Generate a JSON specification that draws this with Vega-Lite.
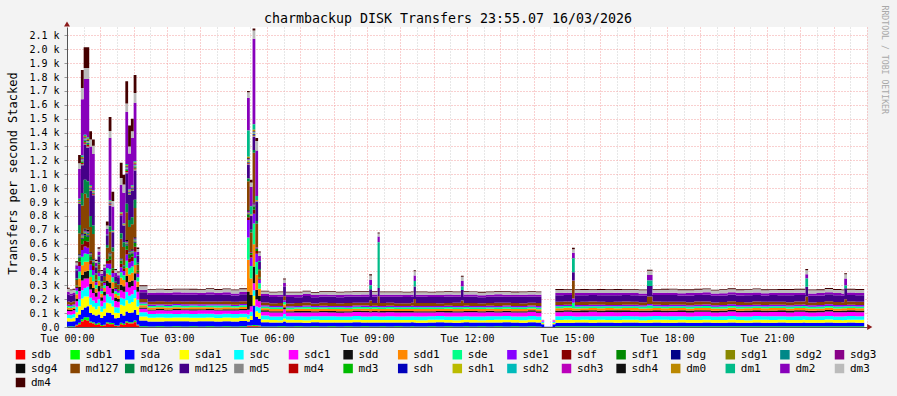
{
"$schema": "https://vega.github.io/schema/vega-lite/v6.json",
"width": 800, "height": 300,
"autosize": {"type": "none"},
"padding": {"left": 67, "top": 27, "right": 30, "bottom": 69},
"background": "#F3F3F3",
"title": {"text": "charmbackup DISK Transfers 23:55.07 16/03/2026", "font": "DejaVu Sans Mono", "fontSize": 13.3, "fontWeight": "normal", "color": "#000000", "anchor": "middle", "frame": "group", "offset": 2, "dx": -19, "dy": 22},
"config": {"view": {"stroke": null, "fill": "#FFFFFF"}, "font": "DejaVu Sans Mono"},
"datasets": {
"series": [{"k":"sdb","i":0},{"k":"sdb1","i":1},{"k":"sda","i":2},{"k":"sda1","i":3},{"k":"sdc","i":4},{"k":"sdc1","i":5},{"k":"sdd","i":6},{"k":"sdd1","i":7},{"k":"sde","i":8},{"k":"sde1","i":9},{"k":"sdf","i":10},{"k":"sdf1","i":11},{"k":"sdg","i":12},{"k":"sdg1","i":13},{"k":"sdg2","i":14},{"k":"sdg3","i":15},{"k":"sdg4","i":16},{"k":"md127","i":17},{"k":"md126","i":18},{"k":"md125","i":19},{"k":"md5","i":20},{"k":"md4","i":21},{"k":"md3","i":22},{"k":"sdh","i":23},{"k":"sdh1","i":24},{"k":"sdh2","i":25},{"k":"sdh3","i":26},{"k":"sdh4","i":27},{"k":"dm0","i":28},{"k":"dm1","i":29},{"k":"dm2","i":30},{"k":"dm3","i":31},{"k":"dm4","i":32}]
},
"resolve": {"axis": {"x": "independent", "y": "independent"}},
"layer": [
{
"data": {"values": [
{"min":0,"sdb1":4,"sda":36,"sda1":24,"sdc":26,"sdc1":26,"sdd":10,"sdd1":14,"sde":12,"sde1":10,"md127":22,"md125":50,"dm2":18,"dm3":24,"dm4":6},
{"min":5,"sdb1":5,"sda":34,"sda1":22,"sdc":28,"sdc1":24,"sdd":9,"sdd1":15,"sde":12,"sde1":9,"md127":20,"md125":48,"dm2":16,"dm3":22,"dm4":6},
{"min":10,"sdb1":4,"sda":38,"sda1":26,"sdc":25,"sdc1":27,"sdd":10,"sdd1":13,"sde":11,"sde1":10,"md127":21,"md125":46,"dm2":17,"dm3":20,"dm4":7},
{"min":15,"sdb":10,"sdb1":6,"sda":50,"sda1":40,"sdc":40,"sdc1":40,"sdd":20,"sdd1":30,"sde":25,"sde1":20,"sdf":10,"sdf1":8,"md127":40,"md126":10,"md125":60,"dm1":6,"dm2":30,"dm3":20,"dm4":8},
{"min":20,"sdb":20,"sdb1":10,"sda":60,"sda1":60,"sdc":50,"sdc1":60,"sdd":30,"sdd1":60,"sde":50,"sde1":40,"sdf":30,"sdf1":30,"sdg":5,"sdg1":5,"sdg2":5,"sdg3":5,"sdg4":5,"md127":150,"md126":60,"md125":150,"md5":5,"md4":5,"md3":5,"sdh":4,"sdh3":4,"dm0":6,"dm1":10,"dm2":215,"dm3":40,"dm4":60},
{"min":25,"sdb":40,"sdb1":15,"sda":70,"sda1":80,"sdc":60,"sdc1":70,"sdd":40,"sdd1":70,"sde":60,"sde1":50,"sdf":40,"sdf1":40,"sdg":8,"sdg1":8,"sdg2":8,"sdg3":8,"sdg4":8,"md127":200,"md126":90,"md125":200,"md5":8,"md4":8,"md3":8,"sdh":5,"sdh1":5,"sdh2":5,"sdh3":5,"sdh4":5,"dm0":10,"dm1":10,"dm2":406,"dm3":80,"dm4":130},
{"min":30,"sdb":50,"sdb1":20,"sda":70,"sda1":80,"sdc":60,"sdc1":70,"sdd":50,"sdd1":70,"sde":60,"sde1":50,"sdf":40,"sdf1":40,"sdg":10,"sdg1":10,"sdg2":10,"sdg3":10,"sdg4":10,"md127":250,"md126":100,"md125":250,"md5":10,"md4":10,"md3":10,"sdh":5,"sdh1":5,"sdh2":5,"sdh3":5,"sdh4":5,"dm0":10,"dm1":10,"dm2":400,"dm3":80,"dm4":150},
{"min":35,"sdb":45,"sdb1":25,"sda":80,"sda1":70,"sdc":70,"sdc1":60,"sdd":55,"sdd1":65,"sde":55,"sde1":45,"sdf":45,"sdf1":35,"sdg":10,"sdg1":10,"sdg2":10,"sdg3":10,"sdg4":10,"md127":230,"md126":120,"md125":240,"md5":10,"md4":10,"md3":10,"sdh":5,"sdh1":5,"sdh2":5,"sdh3":5,"sdh4":5,"dm0":10,"dm1":10,"dm2":420,"dm3":80,"dm4":150},
{"min":40,"sdb":30,"sdb1":10,"sda":60,"sda1":60,"sdc":50,"sdc1":60,"sdd":40,"sdd1":50,"sde":50,"sde1":40,"sdf":30,"sdf1":30,"sdg":6,"sdg1":6,"sdg2":6,"sdg3":6,"sdg4":6,"md127":180,"md126":80,"md125":180,"md5":6,"md4":6,"md3":6,"sdh":4,"sdh3":4,"dm0":8,"dm1":8,"dm2":278,"dm3":50,"dm4":60},
{"min":45,"sdb":25,"sdb1":10,"sda":55,"sda1":55,"sdc":45,"sdc1":55,"sdd":35,"sdd1":50,"sde":45,"sde1":35,"sdf":30,"sdf1":25,"sdg":5,"sdg1":5,"sdg2":5,"sdg3":5,"sdg4":5,"md127":180,"md126":60,"md125":218,"md5":5,"md4":5,"md3":5,"sdh":4,"sdh3":4,"dm0":6,"dm1":8,"dm2":260,"dm3":60,"dm4":45},
{"min":50,"sdb":15,"sdb1":8,"sda":60,"sda1":45,"sdc":45,"sdc1":45,"sdd":30,"sdd1":30,"sde":25,"sde1":20,"sdf":10,"sdf1":8,"md127":35,"md126":10,"md125":45,"dm1":5,"dm2":25,"dm3":15,"dm4":8},
{"min":55,"sdb":20,"sdb1":10,"sda":60,"sda1":60,"sdc":50,"sdc1":55,"sdd":40,"sdd1":40,"sde":30,"sde1":25,"sdf":12,"sdf1":10,"md127":40,"md126":12,"md125":45,"dm1":5,"dm2":30,"dm3":20,"dm4":10},
{"min":60,"sdb":8,"sdb1":6,"sda":50,"sda1":45,"sdc":40,"sdc1":40,"sdd":25,"sdd1":25,"sde":20,"sde1":18,"sdf":8,"sdf1":6,"md127":30,"md126":8,"md125":40,"dm2":15,"dm3":20,"dm4":6},
{"min":65,"sdb":10,"sdb1":6,"sda":65,"sda1":50,"sdc":45,"sdc1":50,"sdd":30,"sdd1":25,"sde":20,"sde1":15,"sdf":8,"sdf1":6,"md127":30,"md126":8,"md125":40,"dm2":20,"dm3":15,"dm4":6},
{"min":70,"sdb":25,"sdb1":10,"sda":70,"sda1":70,"sdc":60,"sdc1":60,"sdd":40,"sdd1":50,"sde":40,"sde1":30,"sdf":20,"sdf1":15,"md127":80,"md126":20,"md125":70,"dm1":5,"dm2":40,"dm3":25,"dm4":30},
{"min":75,"sdb":20,"sdb1":10,"sda":70,"sda1":70,"sdc":50,"sdc1":60,"sdd":40,"sdd1":55,"sde":40,"sde1":40,"sdf":30,"sdf1":25,"sdg":5,"sdg1":5,"sdg2":5,"sdg3":5,"sdg4":5,"md127":150,"md126":40,"md125":150,"md5":5,"md4":5,"md3":5,"sdh":4,"sdh3":4,"dm0":6,"dm1":8,"dm2":450,"dm3":50,"dm4":100},
{"min":80,"sdb":20,"sdb1":8,"sda":60,"sda1":60,"sdc":45,"sdc1":50,"sdd":35,"sdd1":45,"sde":35,"sde1":30,"sdf":20,"sdf1":15,"md127":120,"md126":30,"md125":110,"md5":4,"dm0":5,"dm1":6,"dm2":170,"dm3":40,"dm4":65},
{"min":85,"sdb":8,"sdb1":5,"sda":50,"sda1":40,"sdc":40,"sdc1":45,"sdd":25,"sdd1":25,"sde":20,"sde1":15,"sdf":8,"sdf1":6,"md127":30,"md126":8,"md125":40,"dm2":25,"dm3":20,"dm4":8},
{"min":90,"sdb":6,"sdb1":5,"sda":55,"sda1":35,"sdc":40,"sdc1":40,"sdd":20,"sdd1":25,"sde":20,"sde1":15,"sdf":6,"sdf1":5,"md127":30,"md126":6,"md125":45,"dm2":20,"dm3":20,"dm4":6},
{"min":95,"sdb":20,"sdb1":10,"sda":65,"sda1":65,"sdc":50,"sdc1":55,"sdd":40,"sdd1":50,"sde":40,"sde1":35,"sdf":25,"sdf1":20,"sdg":4,"sdg1":4,"sdg2":4,"sdg3":4,"sdg4":4,"md127":140,"md126":40,"md125":130,"md5":4,"md4":4,"md3":4,"dm0":5,"dm1":6,"dm2":195,"dm3":50,"dm4":110},
{"min":100,"sdb":15,"sdb1":8,"sda":60,"sda1":70,"sdc":50,"sdc1":50,"sdd":40,"sdd1":45,"sde":35,"sde1":30,"sdf":20,"sdf1":15,"sdg":4,"sdg3":4,"md127":130,"md126":35,"md125":120,"md5":4,"dm0":5,"dm1":6,"dm2":220,"dm3":60,"dm4":70},
{"min":105,"sdb":30,"sdb1":12,"sda":70,"sda1":80,"sdc":60,"sdc1":70,"sdd":45,"sdd1":60,"sde":50,"sde1":45,"sdf":35,"sdf1":30,"sdg":8,"sdg1":8,"sdg2":8,"sdg3":8,"sdg4":8,"md127":200,"md126":60,"md125":220,"md5":8,"md4":8,"md3":8,"sdh":5,"sdh1":5,"sdh2":5,"sdh3":5,"sdh4":5,"dm0":8,"dm1":10,"dm2":376,"dm3":60,"dm4":160},
{"min":110,"sdb":25,"sdb1":10,"sda":65,"sda1":70,"sdc":55,"sdc1":60,"sdd":40,"sdd1":55,"sde":45,"sde1":40,"sdf":30,"sdf1":25,"sdg":6,"sdg1":6,"sdg2":6,"sdg3":6,"sdg4":6,"md127":170,"md126":50,"md125":180,"md5":6,"md4":6,"md3":6,"sdh":4,"sdh3":4,"dm0":6,"dm1":8,"dm2":260,"dm3":50,"dm4":150},
{"min":115,"sdb":25,"sdb1":10,"sda":70,"sda1":75,"sdc":55,"sdc1":60,"sdd":40,"sdd1":55,"sde":45,"sde1":40,"sdf":30,"sdf1":25,"sdg":6,"sdg1":6,"sdg2":6,"sdg3":6,"sdg4":6,"md127":180,"md126":50,"md125":190,"md5":6,"md4":6,"md3":6,"sdh":4,"sdh3":4,"dm0":6,"dm1":8,"dm2":340,"dm3":50,"dm4":90},
{"min":120,"sdb":35,"sdb1":12,"sda":75,"sda1":85,"sdc":60,"sdc1":70,"sdd":50,"sdd1":60,"sde":50,"sde1":45,"sdf":35,"sdf1":30,"sdg":8,"sdg1":8,"sdg2":8,"sdg3":8,"sdg4":8,"md127":210,"md126":60,"md125":210,"md5":8,"md4":8,"md3":8,"sdh":5,"sdh1":5,"sdh2":5,"sdh3":5,"sdh4":5,"dm0":8,"dm1":10,"dm2":420,"dm3":70,"dm4":130},
{"min":125,"sdb":10,"sdb1":8,"sda":70,"sda1":60,"sdc":50,"sdc1":55,"sdd":35,"sdd1":40,"sde":30,"sde1":25,"sdf":12,"sdf1":10,"md127":45,"md126":12,"md125":50,"dm1":5,"dm2":25,"dm3":20,"dm4":10},
{"min":130,"sdb1":6,"sda":40,"sda1":30,"sdc":30,"sdc1":26,"sdd":9,"sdd1":15,"sde":13,"sde1":10,"md127":22,"md125":50,"dm2":18,"dm3":24,"dm4":7},
{"min":145,"sdb1":4,"sda":36,"sda1":26,"sdc":28,"sdc1":24,"sdd":8,"sdd1":14,"sde":12,"sde1":10,"md127":20,"md125":48,"dm2":16,"dm3":20,"dm4":6},
{"min":160,"sdb1":5,"sda":35,"sda1":28,"sdc":27,"sdc1":25,"sdd":9,"sdd1":13,"sde":12,"sde1":9,"md127":22,"md125":46,"dm2":17,"dm3":22,"dm4":6},
{"min":175,"sdb1":4,"sda":37,"sda1":25,"sdc":29,"sdc1":23,"sdd":8,"sdd1":15,"sde":11,"sde1":10,"md127":19,"md125":50,"dm2":15,"dm3":21,"dm4":7},
{"min":190,"sdb1":5,"sda":36,"sda1":27,"sdc":26,"sdc1":26,"sdd":9,"sdd1":14,"sde":13,"sde1":9,"md127":21,"md125":47,"dm2":18,"dm3":19,"dm4":6},
{"min":205,"sdb1":4,"sda":38,"sda1":26,"sdc":28,"sdc1":24,"sdd":8,"sdd1":13,"sde":12,"sde1":10,"md127":20,"md125":49,"dm2":16,"dm3":22,"dm4":6},
{"min":220,"sdb1":5,"sda":35,"sda1":27,"sdc":27,"sdc1":25,"sdd":9,"sdd1":15,"sde":12,"sde1":9,"md127":22,"md125":46,"dm2":17,"dm3":20,"dm4":7},
{"min":235,"sdb1":4,"sda":37,"sda1":26,"sdc":29,"sdc1":24,"sdd":8,"sdd1":14,"sde":11,"sde1":10,"md127":20,"md125":48,"dm2":16,"dm3":21,"dm4":6},
{"min":250,"sdb1":5,"sda":36,"sda1":28,"sdc":26,"sdc1":25,"sdd":9,"sdd1":13,"sde":12,"sde1":9,"md127":21,"md125":50,"dm2":17,"dm3":22,"dm4":6},
{"min":265,"sdb1":4,"sda":35,"sda1":25,"sdc":28,"sdc1":26,"sdd":8,"sdd1":15,"sde":13,"sde1":10,"md127":19,"md125":47,"dm2":16,"dm3":20,"dm4":7},
{"min":280,"sdb1":5,"sda":37,"sda1":27,"sdc":27,"sdc1":23,"sdd":9,"sdd1":14,"sde":12,"sde1":9,"md127":22,"md125":48,"dm2":18,"dm3":21,"dm4":6},
{"min":295,"sdb1":4,"sda":36,"sda1":26,"sdc":28,"sdc1":25,"sdd":8,"sdd1":13,"sde":11,"sde1":10,"md127":20,"md125":46,"dm2":15,"dm3":22,"dm4":6},
{"min":310,"sdb1":5,"sda":38,"sda1":27,"sdc":26,"sdc1":24,"sdd":9,"sdd1":15,"sde":12,"sde1":9,"md127":21,"md125":49,"dm2":17,"dm3":20,"dm4":7},
{"min":324,"sdb":5,"sdb1":5,"sda":30,"sda1":20,"sdc":30,"sdc1":35,"sdd":130,"sdd1":230,"sde":160,"sde1":125,"sdf":20,"sdf1":20,"sdg":5,"sdg1":5,"sdg2":5,"sdg3":10,"sdg4":5,"md127":210,"md126":20,"md125":100,"md5":5,"md4":5,"md3":5,"sdh":5,"sdh1":10,"sdh2":5,"sdh3":5,"sdh4":5,"dm0":10,"dm1":190,"dm2":235,"dm3":40,"dm4":10},
{"min":329,"sdb":5,"sdb1":5,"sda":40,"sda1":30,"sdc":30,"sdc1":40,"sdd":80,"sdd1":120,"sde":90,"sde1":60,"sdf":20,"sdf1":15,"sdg3":5,"md127":140,"md126":20,"md125":100,"md5":5,"dm0":5,"dm1":60,"dm2":140,"dm3":30,"dm4":20},
{"min":334,"sdb":5,"sdb1":10,"sda":140,"sda1":70,"sdc":40,"sdc1":50,"sdd":120,"sdd1":160,"sde":150,"sde1":70,"sdf":30,"sdf1":20,"sdg":5,"sdg1":5,"sdg2":5,"sdg3":10,"sdg4":5,"md127":360,"md126":20,"md125":95,"md5":5,"md4":5,"md3":5,"sdh":5,"sdh1":5,"sdh2":5,"sdh3":5,"sdh4":5,"dm0":10,"dm1":40,"dm2":615,"dm3":60,"dm4":15},
{"min":339,"sdb":5,"sdb1":8,"sda":60,"sda1":40,"sdc":35,"sdc1":50,"sdd":70,"sdd1":110,"sde":90,"sde1":60,"sdf":20,"sdf1":15,"sdg":4,"sdg3":6,"md127":170,"md126":20,"md125":140,"md5":4,"dm0":6,"dm1":30,"dm2":327,"dm3":70,"dm4":20},
{"min":344,"sdb":4,"sdb1":6,"sda":50,"sda1":40,"sdc":40,"sdc1":45,"sdd":40,"sdd1":50,"sde":40,"sde1":25,"sdf":10,"sdf1":8,"md127":50,"md126":10,"md125":50,"dm1":8,"dm2":35,"dm3":25,"dm4":8},
{"min":349,"sdb1":4,"sda":30,"sda1":20,"sdc":28,"sdc1":28,"sdd":10,"sdd1":15,"sde":13,"sde1":9,"md127":20,"md125":46,"dm2":15,"dm3":18,"dm4":5},
{"min":364,"sdb1":4,"sda":28,"sda1":18,"sdc":26,"sdc1":28,"sdd":10,"sdd1":15,"sde":13,"sde1":9,"md127":20,"md125":45,"dm2":15,"dm3":18,"dm4":5},
{"min":379,"sdb1":5,"sda":27,"sda1":17,"sdc":27,"sdc1":29,"sdd":9,"sdd1":16,"sde":12,"sde1":10,"md127":21,"md125":44,"dm2":14,"dm3":19,"dm4":5},
{"min":389,"sdb1":6,"sda":34,"sda1":22,"sdc":32,"sdc1":34,"sdd":14,"sdd1":20,"sde":18,"sde1":12,"md127":30,"md125":70,"dm2":24,"dm3":26,"dm4":8},
{"min":394,"sdb1":4,"sda":29,"sda1":19,"sdc":25,"sdc1":27,"sdd":10,"sdd1":14,"sde":13,"sde1":9,"md127":19,"md125":47,"dm2":16,"dm3":17,"dm4":5},
{"min":409,"sdb1":5,"sda":28,"sda1":18,"sdc":26,"sdc1":28,"sdd":11,"sdd1":15,"sde":12,"sde1":9,"md127":20,"md125":43,"dm2":15,"dm3":18,"dm4":6},
{"min":424,"sdb1":4,"sda":27,"sda1":17,"sdc":27,"sdc1":30,"sdd":10,"sdd1":16,"sde":14,"sde1":10,"md127":22,"md125":46,"dm2":14,"dm3":19,"dm4":5},
{"min":439,"sdb1":5,"sda":30,"sda1":18,"sdc":25,"sdc1":27,"sdd":9,"sdd1":15,"sde":13,"sde1":9,"md127":19,"md125":44,"dm2":16,"dm3":17,"dm4":5},
{"min":454,"sdb1":4,"sda":28,"sda1":19,"sdc":26,"sdc1":29,"sdd":10,"sdd1":15,"sde":12,"sde1":10,"md127":21,"md125":45,"dm2":15,"dm3":18,"dm4":5},
{"min":469,"sdb1":5,"sda":27,"sda1":18,"sdc":27,"sdc1":28,"sdd":11,"sdd1":14,"sde":13,"sde1":9,"md127":20,"md125":47,"dm2":14,"dm3":19,"dm4":6},
{"min":484,"sdb1":4,"sda":29,"sda1":17,"sdc":26,"sdc1":27,"sdd":10,"sdd1":16,"sde":14,"sde1":9,"md127":19,"md125":44,"dm2":16,"dm3":18,"dm4":5},
{"min":499,"sdb1":5,"sda":28,"sda1":18,"sdc":25,"sdc1":29,"sdd":9,"sdd1":15,"sde":12,"sde1":10,"md127":22,"md125":46,"dm2":15,"dm3":17,"dm4":5},
{"min":514,"sdb1":4,"sda":30,"sda1":19,"sdc":27,"sdc1":28,"sdd":10,"sdd1":14,"sde":13,"sde1":9,"md127":20,"md125":45,"dm2":14,"dm3":19,"dm4":6},
{"min":529,"sdb1":5,"sda":27,"sda1":18,"sdc":26,"sdc1":30,"sdd":11,"sdd1":15,"sde":12,"sde1":10,"md127":21,"md125":43,"dm2":16,"dm3":18,"dm4":5},
{"min":544,"sdb1":4,"sda":28,"sda1":18,"sdc":26,"sdc1":28,"sdd":10,"sdd1":15,"sde":13,"sde1":9,"md127":40,"md125":80,"dm1":30,"dm2":40,"dm3":30,"dm4":8},
{"min":549,"sdb1":4,"sda":29,"sda1":18,"sdc":27,"sdc1":28,"sdd":10,"sdd1":15,"sde":13,"sde1":9,"md127":20,"md125":46,"dm2":15,"dm3":18,"dm4":5},
{"min":559,"sdb1":4,"sda":28,"sda1":18,"sdc":26,"sdc1":28,"sdd":10,"sdd1":15,"sde":13,"sde1":9,"md127":70,"md125":60,"dm1":330,"dm2":40,"dm3":22,"dm4":8},
{"min":563,"sdb1":5,"sda":28,"sda1":17,"sdc":26,"sdc1":29,"sdd":10,"sdd1":15,"sde":12,"sde1":10,"md127":20,"md125":45,"dm2":15,"dm3":18,"dm4":5},
{"min":574,"sdb1":4,"sda":29,"sda1":18,"sdc":27,"sdc1":28,"sdd":9,"sdd1":16,"sde":13,"sde1":9,"md127":21,"md125":44,"dm2":14,"dm3":19,"dm4":5},
{"min":589,"sdb1":5,"sda":27,"sda1":19,"sdc":25,"sdc1":29,"sdd":10,"sdd1":15,"sde":12,"sde1":10,"md127":19,"md125":46,"dm2":16,"dm3":17,"dm4":6},
{"min":604,"sdb1":4,"sda":28,"sda1":18,"sdc":26,"sdc1":28,"sdd":11,"sdd1":14,"sde":13,"sde1":9,"md127":20,"md125":45,"dm2":15,"dm3":18,"dm4":5},
{"min":619,"sdb1":5,"sda":29,"sda1":17,"sdc":27,"sdc1":27,"sdd":10,"sdd1":15,"sde":14,"sde1":9,"md127":22,"md125":43,"dm2":14,"dm3":19,"dm4":5},
{"min":624,"sdb1":4,"sda":28,"sda1":18,"sdc":26,"sdc1":28,"sdd":10,"sdd1":15,"sde":13,"sde1":9,"md127":50,"md125":90,"dm1":40,"dm2":40,"dm3":30,"dm4":8},
{"min":628,"sdb1":4,"sda":27,"sda1":18,"sdc":26,"sdc1":29,"sdd":10,"sdd1":16,"sde":12,"sde1":10,"md127":20,"md125":46,"dm2":15,"dm3":18,"dm4":5},
{"min":649,"sdb1":5,"sda":28,"sda1":19,"sdc":25,"sdc1":28,"sdd":9,"sdd1":15,"sde":13,"sde1":9,"md127":21,"md125":44,"dm2":16,"dm3":17,"dm4":5},
{"min":664,"sdb1":4,"sda":30,"sda1":18,"sdc":27,"sdc1":27,"sdd":10,"sdd1":14,"sde":12,"sde1":10,"md127":19,"md125":45,"dm2":15,"dm3":19,"dm4":6},
{"min":679,"sdb1":5,"sda":28,"sda1":17,"sdc":26,"sdc1":29,"sdd":11,"sdd1":15,"sde":13,"sde1":9,"md127":20,"md125":47,"dm2":14,"dm3":18,"dm4":5},
{"min":694,"sdb1":4,"sda":27,"sda1":18,"sdc":27,"sdc1":28,"sdd":10,"sdd1":16,"sde":12,"sde1":10,"md127":22,"md125":44,"dm2":15,"dm3":17,"dm4":5},
{"min":709,"sdb1":4,"sda":28,"sda1":18,"sdc":26,"sdc1":28,"sdd":10,"sdd1":15,"sde":13,"sde1":9,"md127":40,"md125":75,"dm1":25,"dm2":40,"dm3":30,"dm4":8},
{"min":714,"sdb1":5,"sda":29,"sda1":19,"sdc":25,"sdc1":28,"sdd":10,"sdd1":15,"sde":13,"sde1":9,"md127":20,"md125":45,"dm2":16,"dm3":18,"dm4":5},
{"min":724,"sdb1":4,"sda":28,"sda1":18,"sdc":26,"sdc1":30,"sdd":9,"sdd1":15,"sde":12,"sde1":10,"md127":21,"md125":46,"dm2":15,"dm3":19,"dm4":5},
{"min":739,"sdb1":5,"sda":27,"sda1":17,"sdc":27,"sdc1":28,"sdd":10,"sdd1":16,"sde":13,"sde1":9,"md127":19,"md125":44,"dm2":14,"dm3":18,"dm4":6},
{"min":754,"sdb1":4,"sda":29,"sda1":18,"sdc":26,"sdc1":29,"sdd":11,"sdd1":14,"sde":12,"sde1":10,"md127":20,"md125":45,"dm2":15,"dm3":17,"dm4":5},
{"min":769,"sdb1":5,"sda":28,"sda1":19,"sdc":25,"sdc1":27,"sdd":10,"sdd1":15,"sde":14,"sde1":9,"md127":22,"md125":46,"dm2":16,"dm3":18,"dm4":5},
{"min":784,"sdb1":4,"sda":30,"sda1":18,"sdc":27,"sdc1":28,"sdd":10,"sdd1":15,"sde":13,"sde1":10,"md127":20,"md125":43,"dm2":15,"dm3":19,"dm4":5},
{"min":799,"sdb1":5,"sda":28,"sda1":17,"sdc":26,"sdc1":29,"sdd":9,"sdd1":16,"sde":12,"sde1":9,"md127":21,"md125":45,"dm2":14,"dm3":18,"dm4":6},
{"min":814,"sdb1":4,"sda":27,"sda1":18,"sdc":27,"sdc1":28,"sdd":10,"sdd1":15,"sde":13,"sde1":10,"md127":19,"md125":46,"dm2":16,"dm3":17,"dm4":5},
{"min":829,"sdb1":5,"sda":29,"sda1":19,"sdc":26,"sdc1":30,"sdd":11,"sdd1":14,"sde":12,"sde1":9,"md127":20,"md125":44,"dm2":15,"dm3":18,"dm4":5},
{"min":844,"sdb1":4,"sda":28,"sda1":18,"sdc":25,"sdc1":28,"sdd":10,"sdd1":15,"sde":13,"sde1":10,"md127":21,"md125":45,"dm2":15,"dm3":19,"dm4":5},
{"min":854,"sda":20,"sda1":8,"sdc":10,"sdc1":10,"dm3":5},
{"min":859,"sda":2},
{"min":874,"sda":20,"sda1":8,"sdc":10,"sdc1":10,"dm3":5},
{"min":879,"sdb1":5,"sda":26,"sda1":20,"sdc":26,"sdc1":30,"sdd":12,"sdd1":16,"sde":14,"sde1":10,"md127":22,"md125":48,"dm2":16,"dm3":22,"dm4":6},
{"min":894,"sdb1":6,"sda":25,"sda1":21,"sdc":27,"sdc1":31,"sdd":11,"sdd1":17,"sde":13,"sde1":10,"md127":23,"md125":46,"dm2":17,"dm3":21,"dm4":6},
{"min":909,"sdb1":5,"sda":26,"sda1":20,"sdc":26,"sdc1":30,"sdd":12,"sdd1":16,"sde":40,"sde1":30,"md127":130,"md125":60,"dm1":100,"dm2":40,"dm3":25,"dm4":10},
{"min":914,"sdb1":5,"sda":27,"sda1":19,"sdc":25,"sdc1":30,"sdd":12,"sdd1":16,"sde":14,"sde1":11,"md127":21,"md125":49,"dm2":16,"dm3":23,"dm4":6},
{"min":924,"sdb1":6,"sda":26,"sda1":20,"sdc":26,"sdc1":29,"sdd":13,"sdd1":15,"sde":14,"sde1":10,"md127":22,"md125":47,"dm2":17,"dm3":22,"dm4":7},
{"min":939,"sdb1":5,"sda":25,"sda1":21,"sdc":27,"sdc1":31,"sdd":12,"sdd1":16,"sde":13,"sde1":10,"md127":23,"md125":48,"dm2":16,"dm3":21,"dm4":6},
{"min":954,"sdb1":5,"sda":27,"sda1":20,"sdc":25,"sdc1":30,"sdd":11,"sdd1":17,"sde":14,"sde1":11,"md127":22,"md125":46,"dm2":17,"dm3":22,"dm4":6},
{"min":969,"sdb1":6,"sda":26,"sda1":19,"sdc":26,"sdc1":31,"sdd":12,"sdd1":16,"sde":13,"sde1":10,"md127":21,"md125":49,"dm2":16,"dm3":23,"dm4":6},
{"min":984,"sdb1":5,"sda":25,"sda1":20,"sdc":27,"sdc1":30,"sdd":13,"sdd1":15,"sde":14,"sde1":10,"md127":22,"md125":48,"dm2":17,"dm3":21,"dm4":7},
{"min":999,"sdb1":5,"sda":27,"sda1":21,"sdc":26,"sdc1":29,"sdd":12,"sdd1":16,"sde":13,"sde1":11,"md127":23,"md125":47,"dm2":16,"dm3":22,"dm4":6},
{"min":1014,"sdb1":6,"sda":26,"sda1":20,"sdc":25,"sdc1":31,"sdd":11,"sdd1":17,"sde":14,"sde1":10,"md127":22,"md125":46,"dm2":17,"dm3":23,"dm4":6},
{"min":1029,"sdb1":5,"sda":25,"sda1":19,"sdc":27,"sdc1":30,"sdd":12,"sdd1":16,"sde":13,"sde1":10,"md127":21,"md125":48,"dm2":16,"dm3":22,"dm4":6},
{"min":1044,"sdb1":5,"sda":26,"sda1":20,"sdc":26,"sdc1":30,"sdd":12,"sdd1":16,"sde":20,"sde1":10,"md127":55,"md125":75,"dm1":40,"dm2":40,"dm3":30,"dm4":8},
{"min":1054,"sdb1":6,"sda":27,"sda1":20,"sdc":26,"sdc1":29,"sdd":13,"sdd1":15,"sde":14,"sde1":11,"md127":22,"md125":47,"dm2":17,"dm3":21,"dm4":6},
{"min":1069,"sdb1":5,"sda":26,"sda1":21,"sdc":25,"sdc1":30,"sdd":12,"sdd1":16,"sde":13,"sde1":10,"md127":23,"md125":49,"dm2":16,"dm3":22,"dm4":7},
{"min":1084,"sdb1":5,"sda":25,"sda1":20,"sdc":27,"sdc1":31,"sdd":11,"sdd1":17,"sde":14,"sde1":10,"md127":22,"md125":48,"dm2":17,"dm3":23,"dm4":6},
{"min":1099,"sdb1":6,"sda":27,"sda1":19,"sdc":26,"sdc1":30,"sdd":12,"sdd1":16,"sde":13,"sde1":11,"md127":21,"md125":46,"dm2":16,"dm3":22,"dm4":6},
{"min":1114,"sdb1":5,"sda":26,"sda1":20,"sdc":25,"sdc1":29,"sdd":13,"sdd1":15,"sde":14,"sde1":10,"md127":22,"md125":48,"dm2":17,"dm3":21,"dm4":6},
{"min":1129,"sdb1":5,"sda":25,"sda1":21,"sdc":27,"sdc1":31,"sdd":12,"sdd1":16,"sde":13,"sde1":10,"md127":23,"md125":47,"dm2":16,"dm3":23,"dm4":7},
{"min":1144,"sdb1":6,"sda":27,"sda1":20,"sdc":26,"sdc1":30,"sdd":11,"sdd1":17,"sde":14,"sde1":11,"md127":22,"md125":49,"dm2":17,"dm3":22,"dm4":6},
{"min":1159,"sdb1":5,"sda":26,"sda1":19,"sdc":25,"sdc1":30,"sdd":12,"sdd1":16,"sde":13,"sde1":10,"md127":21,"md125":48,"dm2":16,"dm3":21,"dm4":6},
{"min":1174,"sdb1":5,"sda":25,"sda1":20,"sdc":27,"sdc1":29,"sdd":13,"sdd1":15,"sde":14,"sde1":10,"md127":22,"md125":46,"dm2":17,"dm3":23,"dm4":6},
{"min":1189,"sdb1":6,"sda":27,"sda1":21,"sdc":26,"sdc1":31,"sdd":12,"sdd1":16,"sde":13,"sde1":11,"md127":23,"md125":48,"dm2":16,"dm3":22,"dm4":7},
{"min":1204,"sdb1":5,"sda":26,"sda1":20,"sdc":25,"sdc1":30,"sdd":11,"sdd1":17,"sde":14,"sde1":10,"md127":22,"md125":47,"dm2":17,"dm3":21,"dm4":6},
{"min":1219,"sdb1":5,"sda":25,"sda1":19,"sdc":27,"sdc1":31,"sdd":12,"sdd1":16,"sde":13,"sde1":10,"md127":21,"md125":49,"dm2":16,"dm3":22,"dm4":6},
{"min":1234,"sdb1":6,"sda":27,"sda1":20,"sdc":26,"sdc1":29,"sdd":13,"sdd1":15,"sde":14,"sde1":11,"md127":22,"md125":48,"dm2":17,"dm3":23,"dm4":6},
{"min":1249,"sdb1":5,"sda":26,"sda1":21,"sdc":25,"sdc1":30,"sdd":12,"sdd1":16,"sde":13,"sde1":10,"md127":23,"md125":46,"dm2":16,"dm3":22,"dm4":7},
{"min":1264,"sdb1":5,"sda":25,"sda1":20,"sdc":27,"sdc1":31,"sdd":11,"sdd1":17,"sde":14,"sde1":10,"md127":22,"md125":48,"dm2":17,"dm3":21,"dm4":6},
{"min":1279,"sdb1":6,"sda":27,"sda1":19,"sdc":26,"sdc1":30,"sdd":12,"sdd1":16,"sde":13,"sde1":11,"md127":21,"md125":47,"dm2":16,"dm3":23,"dm4":6},
{"min":1294,"sdb1":5,"sda":26,"sda1":20,"sdc":25,"sdc1":29,"sdd":13,"sdd1":15,"sde":14,"sde1":10,"md127":22,"md125":49,"dm2":17,"dm3":22,"dm4":6},
{"min":1309,"sdb1":5,"sda":25,"sda1":21,"sdc":27,"sdc1":31,"sdd":12,"sdd1":16,"sde":13,"sde1":10,"md127":23,"md125":48,"dm2":16,"dm3":21,"dm4":7},
{"min":1324,"sdb1":6,"sda":27,"sda1":20,"sdc":26,"sdc1":30,"sdd":11,"sdd1":17,"sde":14,"sde1":11,"md127":22,"md125":46,"dm2":17,"dm3":22,"dm4":6},
{"min":1329,"sdb1":5,"sda":26,"sda1":20,"sdc":26,"sdc1":30,"sdd":12,"sdd1":16,"sde":14,"sde1":10,"md127":60,"md125":70,"dm1":60,"dm2":30,"dm3":30,"dm4":8},
{"min":1334,"sdb1":5,"sda":26,"sda1":19,"sdc":25,"sdc1":30,"sdd":12,"sdd1":16,"sde":13,"sde1":10,"md127":21,"md125":48,"dm2":16,"dm3":23,"dm4":6},
{"min":1349,"sdb1":5,"sda":25,"sda1":20,"sdc":27,"sdc1":29,"sdd":13,"sdd1":15,"sde":14,"sde1":10,"md127":22,"md125":47,"dm2":17,"dm3":21,"dm4":6},
{"min":1364,"sdb1":6,"sda":27,"sda1":21,"sdc":26,"sdc1":31,"sdd":12,"sdd1":16,"sde":13,"sde1":11,"md127":23,"md125":49,"dm2":16,"dm3":22,"dm4":7},
{"min":1379,"sdb1":5,"sda":26,"sda1":20,"sdc":25,"sdc1":30,"sdd":11,"sdd1":17,"sde":14,"sde1":10,"md127":22,"md125":48,"dm2":17,"dm3":22,"dm4":6},
{"min":1394,"sdb1":5,"sda":25,"sda1":19,"sdc":27,"sdc1":31,"sdd":12,"sdd1":16,"sde":13,"sde1":10,"md127":21,"md125":46,"dm2":16,"dm3":23,"dm4":6},
{"min":1399,"sdb1":5,"sda":26,"sda1":20,"sdc":26,"sdc1":30,"sdd":12,"sdd1":16,"sde":14,"sde1":10,"md127":40,"md125":80,"dm1":20,"dm2":50,"dm3":30,"dm4":8},
{"min":1404,"sdb1":6,"sda":27,"sda1":20,"sdc":26,"sdc1":29,"sdd":13,"sdd1":15,"sde":14,"sde1":11,"md127":22,"md125":48,"dm2":17,"dm3":21,"dm4":6},
{"min":1419,"sdb1":5,"sda":26,"sda1":21,"sdc":25,"sdc1":30,"sdd":12,"sdd1":16,"sde":13,"sde1":10,"md127":23,"md125":47,"dm2":16,"dm3":22,"dm4":7},
{"min":1435,"sdb1":5,"sda":26,"sda1":21,"sdc":25,"sdc1":30,"sdd":12,"sdd1":16,"sde":13,"sde1":10,"md127":23,"md125":47,"dm2":16,"dm3":22,"dm4":7}
]},
"transform": [
{"fold": ["sdb","sdb1","sda","sda1","sdc","sdc1","sdd","sdd1","sde","sde1","sdf","sdf1","sdg","sdg1","sdg2","sdg3","sdg4","md127","md126","md125","md5","md4","md3","sdh","sdh1","sdh2","sdh3","sdh4","dm0","dm1","dm2","dm3","dm4"], "as": ["k","v"]},
{"filter": "isValid(datum.v)"},
{"lookup": "k", "from": {"data": {"name": "series"}, "key": "k", "fields": ["i"]}}
],
"mark": {"type": "area", "interpolate": "step-after", "opacity": 1},
"encoding": {
"x": {"field": "min", "type": "quantitative",
 "scale": {"domain": [0, 1440], "nice": false, "zero": false},
 "axis": {"orient": "bottom", "title": null,
  "values": [0,60,120,180,240,300,360,420,480,540,600,660,720,780,840,900,960,1020,1080,1140,1200,1260,1320,1380,1440],
  "labelExpr": "datum.value % 180 == 0 && datum.value < 1440 ? 'Tue ' + (datum.value < 600 ? '0' : '') + (datum.value / 60) + ':00' : ''", "labelOverlap": false, "labelFlush": false, "labelFont": "DejaVu Sans Mono", "labelFontSize": 10, "labelColor": "#000000", "labelPadding": 6, "tickSize": 0, "grid": true, "gridColor": "#F2A0A0", "gridDash": [1,2], "domainColor": "#555555"}},
"y": {"field": "v", "type": "quantitative", "stack": "zero",
 "scale": {"domain": [0, 2160], "nice": false, "zero": true},
 "axis": {"title": "Transfers per second Stacked", "titleFont": "DejaVu Sans Mono", "titleFontSize": 12, "titleFontWeight": "normal", "titleColor": "#000000", "titleAngle": 270, "titleX": -51, "titleY": 146, "titleAlign": "center", "titleBaseline": "alphabetic", "values": [0,100,200,300,400,500,600,700,800,900,1000,1100,1200,1300,1400,1500,1600,1700,1800,1900,2000,2100], "labelExpr": "datum.value == 0 ? '0.0' : format(datum.value / 1000, '.1f') + ' k'", "labelFont": "DejaVu Sans Mono", "labelFontSize": 10, "labelColor": "#000000", "labelPadding": 5, "tickSize": 3, "tickColor": "#999999", "grid": true, "gridColor": "#F2A0A0", "gridDash": [1,2], "domainColor": "#555555"}},
"color": {"field": "k", "type": "nominal",
 "scale": {"domain": ["sdb","sdb1","sda","sda1","sdc","sdc1","sdd","sdd1","sde","sde1","sdf","sdf1","sdg","sdg1","sdg2","sdg3","sdg4","md127","md126","md125","md5","md4","md3","sdh","sdh1","sdh2","sdh3","sdh4","dm0","dm1","dm2","dm3","dm4"],
  "range": ["#FF0000","#00FF00","#0000FF","#FFFF00","#00FFFF","#FF00FF","#111111","#FF8800","#00FF88","#8800FF","#880000","#008800","#000088","#888800","#008888","#880088","#0A0A0A","#884400","#008844","#440088","#888888","#BB0000","#00BB00","#0000BB","#BBBB00","#00BBBB","#BB00BB","#111111","#BB8800","#00BB88","#8800BB","#BBBBBB","#440000"]},
 "legend": {"orient": "none", "legendX": -52, "legendY": 322, "direction": "horizontal", "columns": 16, "symbolLimit": 40, "title": null, "symbolType": "square", "symbolSize": 90, "labelFont": "DejaVu Sans Mono", "labelFontSize": 11, "labelColor": "#000000", "labelOffset": 5, "labelLimit": 34, "columnPadding": 4.6, "rowPadding": 2, "gridAlign": "all", "padding": 0, "encode": {"symbols": {"update": {"stroke": {"value": "#000000"}, "strokeWidth": {"value": 1}, "opacity": {"value": 1}}}}}},
"order": {"field": "i", "type": "quantitative", "sort": "ascending"}
}
},
{
"data": {"values": [{"min": 0, "v": 2182}]},
"mark": {"type": "point", "shape": "triangle-up", "filled": true, "color": "#8B1A1A", "size": 35, "opacity": 1},
"encoding": {
"x": {"field": "min", "type": "quantitative", "scale": {"domain": [0, 1440], "nice": false, "zero": false},
 "axis": {"orient": "bottom", "title": null, "labels": false, "ticks": false, "domain": false, "grid": true, "gridColor": "#CFCFCF", "gridDash": [1,2],
  "values": [30,90,150,210,270,330,390,450,510,570,630,690,750,810,870,930,990,1050,1110,1170,1230,1290,1350,1410]}},
"y": {"field": "v", "type": "quantitative", "scale": {"domain": [0, 2160], "nice": false},
 "axis": {"orient": "right", "labels": false, "ticks": false, "domain": false, "grid": false, "title": "RRDTOOL / TOBI OETIKER", "titleAngle": 90, "titleFont": "DejaVu Sans Mono", "titleFontSize": 8.2, "titleFontWeight": "normal", "titleColor": "#A8A8A8", "titleX": 14.5, "titleY": -22, "titleAlign": "left", "titleBaseline": "alphabetic"}}
}
},
{
"data": {"values": [{"min": 1445, "v": 0}]},
"mark": {"type": "point", "shape": "triangle-right", "filled": true, "color": "#8B1A1A", "size": 35, "opacity": 1},
"encoding": {
"x": {"field": "min", "type": "quantitative", "axis": null, "scale": {"domain": [0, 1440], "nice": false, "zero": false}},
"y": {"field": "v", "type": "quantitative", "axis": null}
}
}
]
}
